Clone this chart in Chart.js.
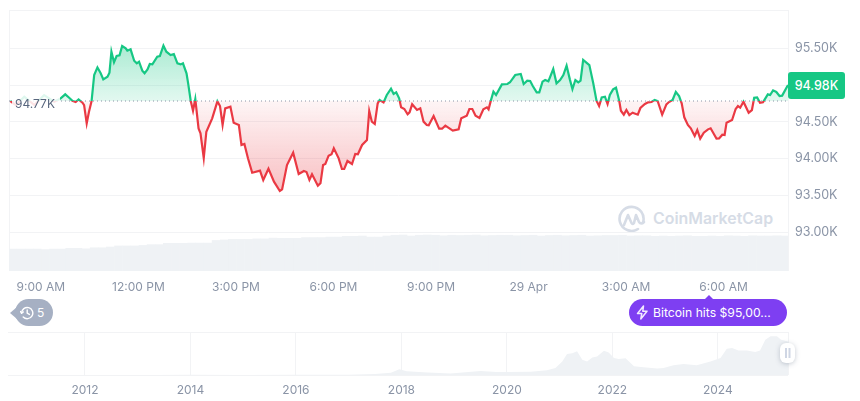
<!DOCTYPE html>
<html>
<head>
<meta charset="utf-8">
<script src="https://cdn.jsdelivr.net/npm/chart.js@4/dist/chart.umd.js"></script>
<style>
  html, body { margin: 0; padding: 0; background: #fff; }
  body { position: relative; width: 860px; height: 401px; overflow: hidden; font-family: Inter, sans-serif; }
  canvas { position: absolute; left: 0; }
  #main { top: 0; }
  #mini { top: 320px; }
  .tag { position: absolute; box-sizing: border-box; white-space: nowrap; }
  #watermark { left: 616px; top: 205px; display: flex; align-items: center; gap: 4px; color: #d6dce6; font-size: 15.9px; font-weight: 600; }
  #open { left: 12px; top: 93px; width: 48px; height: 20px; line-height: 21px; padding-left: 3px; background: rgba(255,255,255,.86); color: #58667e; font-size: 12px; }
  #last { left: 788px; top: 72px; width: 57px; height: 27px; line-height: 27px; text-align: center; background: #16c784; color: #fff; font-size: 12.5px; font-weight: 500; border-radius: 3px; }
  #history { left: 15px; top: 299px; width: 38px; height: 27px; background: #a6b0c3; color: #fff; border-radius: 14px; font-size: 12px; line-height: 27px; padding-left: 22px; }
  #history:before { content: ''; position: absolute; left: -5px; top: 8px; border-style: solid; border-width: 6px 7px 6px 0; border-color: transparent #a6b0c3 transparent transparent; }
  #history svg { position: absolute; left: 5px; top: 7px; }
  #news { left: 629px; top: 299px; width: 158px; height: 27px; background: #7e3ff2; color: #fff; border-radius: 14px; font-size: 12.2px; line-height: 27px; padding-left: 24px; }
  #news:before { content: ''; position: absolute; left: 75px; top: -4px; border-style: solid; border-width: 0 5px 5px 5px; border-color: transparent transparent #7e3ff2 transparent; }
  #news svg { position: absolute; left: 7px; top: 6px; }
  #handle { left: 780px; top: 343px; width: 15px; height: 20px; background: #fff; border-radius: 6px; box-shadow: 0 1px 5px rgba(88,102,126,.35); }
  #handle:before { content: ''; position: absolute; left: 5px; top: 5px; width: 1.5px; height: 10px; background: #cfd6e4; box-shadow: 3.5px 0 0 #cfd6e4; }
</style>
</head>
<body>
<div class="tag" id="watermark">
  <svg width="33" height="27" viewBox="0 0 33 27" fill="none" stroke="#d6dce6" stroke-width="2.6" stroke-linejoin="round" stroke-linecap="round">
    <path d="M27 17.5 A12 12 0 1 0 22 24 "/>
    <path d="M8 20 L12 10 L15.5 18 Q16.5 20 18 18 L20 10 L23 17 Q25 20 28 17"/>
  </svg>
  <span>CoinMarketCap</span>
</div>
<canvas id="main" width="860" height="298"></canvas>
<canvas id="mini" width="860" height="81"></canvas>
<div class="tag" id="open">94.77K</div>
<div class="tag" id="last">94.98K</div>
<div class="tag" id="history">
  <svg width="14" height="14" viewBox="0 0 14 14" fill="none" stroke="#fff" stroke-width="1.4" stroke-linecap="round" stroke-linejoin="round">
    <path d="M1.6 7 A5.6 5.6 0 1 1 3.2 11"/><path d="M0.5 5.5 L1.6 7.3 L3.3 6"/><path d="M7.2 4 V7.2 L9.4 8.4"/>
  </svg>5</div>
<div class="tag" id="news">
  <svg width="13" height="15" viewBox="0 0 13 15" fill="none" stroke="#f1e9ff" stroke-width="1.5" stroke-linejoin="round">
    <path d="M7.5 1 L1.5 8.5 H5.8 L4.8 14 L11 6.2 H6.8 Z"/>
  </svg>Bitcoin hits $95,00...</div>
<div class="tag" id="handle"></div>
<script>
// price, hours counted from 00:00 on 28 Apr
const priceHours = [8.06,8.23,8.49,8.80,9.10,9.41,9.61,9.75,9.87,9.97,10.07,10.16,10.28,10.33,10.41,10.48,10.56,10.64,10.74,10.84,10.92,11.05,11.11,11.17,11.25,11.33,11.42,11.50,11.61,11.66,11.76,11.87,11.95,12.02,12.12,12.19,12.28,12.35,12.43,12.58,12.66,12.77,12.86,12.99,13.09,13.20,13.30,13.37,13.48,13.53,13.61,13.68,13.75,13.85,13.91,14.01,14.09,14.27,14.43,14.51,14.59,14.67,14.83,14.93,15.09,15.17,15.26,15.37,15.50,15.74,15.84,16.00,16.17,16.35,16.42,16.57,16.76,16.93,17.09,17.17,17.26,17.34,17.52,17.60,17.68,17.75,17.85,17.94,18.01,18.16,18.26,18.33,18.43,18.57,18.67,18.75,18.88,19.03,19.10,19.18,19.27,19.36,19.42,19.54,19.64,19.77,19.85,19.93,20.02,20.08,20.18,20.28,20.34,20.42,20.57,20.67,20.77,20.87,20.93,21.08,21.25,21.34,21.44,21.67,21.85,21.93,22.10,22.18,22.27,22.37,22.49,22.61,22.72,22.77,22.84,22.92,23.00,23.18,23.35,23.43,23.59,23.76,23.85,23.96,24.05,24.13,24.25,24.33,24.43,24.51,24.61,24.76,24.86,24.97,25.07,25.17,25.27,25.35,25.44,25.53,25.60,25.68,25.87,25.99,26.09,26.17,26.25,26.35,26.43,26.50,26.60,26.69,26.79,26.84,26.93,27.01,27.10,27.20,27.36,27.44,27.58,27.68,27.78,27.88,27.97,28.11,28.24,28.32,28.43,28.53,28.63,28.71,28.79,28.90,28.99,29.11,29.19,29.28,29.39,29.52,29.60,29.78,29.86,29.96,30.03,30.09,30.26,30.37,30.44,30.51,30.61,30.77,30.87,30.94,31.03,31.12,31.21,31.36,31.43,31.52,31.62,31.72,31.80,31.98];
const prices = [94785,94730,94844,94730,94866,94776,94821,94876,94830,94789,94771,94807,94762,94730,94481,94639,94785,95139,95243,95162,95080,95116,95171,95457,95312,95398,95407,95534,95502,95470,95489,95334,95298,95321,95198,95162,95216,95289,95284,95389,95398,95539,95457,95411,95425,95298,95284,95298,95162,95025,94785,94653,94812,94412,94344,94008,94367,94549,94780,94717,94458,94685,94708,94490,94458,94185,94199,94004,93808,93836,93709,93863,93686,93559,93581,93913,94081,93791,93832,93818,93709,93786,93632,93664,93913,93927,94040,94059,94140,94004,93859,93859,93968,93927,94063,94059,94186,94254,94649,94504,94472,94753,94799,94767,94867,94953,94881,94903,94822,94699,94676,94604,94631,94740,94663,94685,94504,94458,94454,94581,94408,94408,94449,94381,94399,94549,94585,94676,94676,94585,94554,94672,94699,94672,94790,94912,94867,95012,95017,95040,95139,95153,95017,95062,95058,94990,94903,94903,95049,95071,95053,95221,95026,95071,95139,95266,95080,94948,95071,95039,95062,95344,95275,95026,94790,94717,94835,94844,94744,94867,94944,94967,94785,94653,94599,94662,94594,94626,94599,94690,94744,94767,94771,94799,94785,94599,94740,94771,94799,94908,94853,94753,94563,94458,94413,94308,94390,94272,94354,94399,94413,94272,94276,94326,94322,94490,94526,94676,94717,94694,94776,94626,94662,94830,94835,94762,94767,94876,94867,94930,94908,94853,94858,95003];
const openPrice = 94785;

// volume, one bar per 15 minutes
const volumeHours = [8.14,8.39,8.64,8.89,9.14,9.39,9.64,9.89,10.14,10.39,10.64,10.89,11.14,11.39,11.64,11.89,12.14,12.39,12.64,12.89,13.14,13.39,13.64,13.89,14.14,14.39,14.64,14.89,15.14,15.39,15.64,15.89,16.14,16.39,16.64,16.89,17.14,17.39,17.64,17.89,18.14,18.39,18.64,18.89,19.14,19.39,19.64,19.89,20.14,20.39,20.64,20.89,21.14,21.39,21.64,21.89,22.14,22.39,22.64,22.89,23.14,23.39,23.64,23.89,24.14,24.39,24.64,24.89,25.14,25.39,25.64,25.89,26.14,26.39,26.64,26.89,27.14,27.39,27.64,27.89,28.14,28.39,28.64,28.89,29.14,29.39,29.64,29.89,30.14,30.39,30.64,30.89,31.14,31.39,31.64,31.89];
const volumes = [8.4,8.4,8.4,8.4,8.2,8.4,8.4,8.7,8.7,8.5,8.9,8.9,9.2,9.6,9.6,9.6,9.8,10.1,10.1,10.6,10.6,10.6,10.7,10.7,10.7,11.7,11.9,12.1,12.1,12.1,12.3,12.3,12.6,12.5,12.5,12.5,12.8,12.8,12.8,13.0,13.0,13.3,13.3,13.4,13.0,13.0,13.4,13.7,13.8,13.4,13.7,13.8,13.7,13.5,13.7,13.6,13.7,13.8,13.5,13.6,13.7,13.7,13.5,13.6,13.7,13.4,13.6,13.7,13.5,13.6,13.7,13.4,13.5,13.6,13.6,13.7,13.4,13.5,13.5,13.3,13.4,13.3,13.4,13.5,13.3,13.3,13.4,13.3,13.5,13.4,13.3,13.5,13.4,13.4,13.5,13.4];

const xTicks = [9,12,15,18,21,24,27,30];
const xTickLabels = ['9:00 AM','12:00 PM','3:00 PM','6:00 PM','9:00 PM','29 Apr','3:00 AM','6:00 AM'];
const yTicks = [93000,93500,94000,94500,95000,95500];
const yTickLabels = ['93.00K','93.50K','94.00K','94.50K','','95.50K'];

// all-time navigator
const miniYears = [2010.54,2012,2013.3,2014,2015,2016,2017,2017.5,2017.8,2017.96,2018.1,2018.5,2018.93,2019.5,2019.8,2020,2020.45,2020.76,2020.92,2021.05,2021.14,2021.24,2021.33,2021.43,2021.52,2021.62,2021.71,2021.84,2021.93,2022.03,2022.12,2022.25,2022.41,2022.59,2022.85,2022.97,2023.16,2023.35,2023.6,2023.86,2024.05,2024.17,2024.27,2024.39,2024.55,2024.71,2024.8,2024.9,2025,2025.12,2025.2,2025.33];
const miniPrices = [0,10,200,800,300,400,1000,2500,6000,16000,10000,7000,4000,11000,8000,8000,9000,12800,19000,37000,57500,60000,65000,42000,37000,48000,51000,66600,62000,46600,44000,46000,24000,21000,18000,19000,26500,30000,26500,37000,46600,72000,74000,67000,67500,63000,67000,97000,106000,106000,97000,92000];
const miniTicks = [2012,2014,2016,2018,2020,2022,2024];

const fontFamily = 'Inter, sans-serif';
const muted = '#8a94a6';
const grid = '#f2f3f5';
const X_MIN = 8.02, X_MAX = 31.98, Y_MIN = 92469, Y_MAX = 96025;

function createPriceChart(canvas) {
  const ctx = canvas.getContext('2d');
  const baseY = 101;

  const lineColor = ctx.createLinearGradient(0, 0, 0, 298);
  lineColor.addColorStop(0, '#16c784');
  lineColor.addColorStop(baseY / 298, '#16c784');
  lineColor.addColorStop(baseY / 298, '#ea3943');
  lineColor.addColorStop(1, '#ea3943');

  const aboveFill = ctx.createLinearGradient(0, 45, 0, baseY);
  aboveFill.addColorStop(0, 'rgba(22,199,132,.36)');
  aboveFill.addColorStop(1, 'rgba(22,199,132,.12)');

  const belowFill = ctx.createLinearGradient(0, baseY, 0, 192);
  belowFill.addColorStop(0, 'rgba(234,57,67,.05)');
  belowFill.addColorStop(1, 'rgba(234,57,67,.32)');

  return new Chart(ctx, {
    data: {
      datasets: [
        {
          type: 'line',
          data: priceHours.map((x, i) => ({ x, y: prices[i] })),
          borderColor: lineColor,
          borderWidth: 2.2,
          pointRadius: 0,
          tension: 0,
          fill: { target: { value: openPrice }, above: aboveFill, below: belowFill },
          order: 1,
        },
        {
          type: 'line',
          data: [{ x: X_MIN, y: openPrice }, { x: X_MAX, y: openPrice }],
          borderColor: '#8a94a6',
          borderWidth: 1,
          borderDash: [1, 3],
          pointRadius: 0,
          fill: false,
          order: 0,
        },
        {
          type: 'bar',
          data: volumeHours.map((x, i) => ({ x, y: volumes[i] })),
          yAxisID: 'volume',
          backgroundColor: '#eff2f5',
          barThickness: 8,
          order: 2,
        },
      ],
    },
    options: {
      responsive: false,
      animation: false,
      layout: { padding: { left: 8, top: 10 } },
      plugins: { legend: { display: false }, tooltip: { enabled: false } },
      scales: {
        x: {
          type: 'linear',
          offset: false,
          min: X_MIN,
          max: X_MAX,
          afterBuildTicks: (s) => { s.ticks = [X_MIN, ...xTicks, X_MAX].map((value) => ({ value })); },
          afterFit: (s) => { s.height = 27; },
          ticks: {
            autoSkip: false,
            maxRotation: 0,
            padding: 9,
            color: muted,
            font: { family: fontFamily, size: 12 },
            callback: (v) => { const i = xTicks.indexOf(v); return i < 0 ? '' : xTickLabels[i]; },
          },
          grid: {
            offset: false,
            drawTicks: false,
            color: (c) => (xTicks.includes(c.tick && c.tick.value) ? 'transparent' : grid),
          },
          border: { display: false },
        },
        y: {
          position: 'right',
          min: Y_MIN,
          max: Y_MAX,
          afterBuildTicks: (s) => { s.ticks = [...yTicks, Y_MAX].map((value) => ({ value })); },
          afterFit: (s) => { s.width = 72; s.paddingTop = 0; s.paddingBottom = 0; },
          ticks: {
            autoSkip: false,
            padding: 7,
            color: muted,
            font: { family: fontFamily, size: 12.5 },
            callback: (v) => { const i = yTicks.indexOf(v); return i < 0 ? '' : yTickLabels[i]; },
          },
          grid: { drawTicks: false, color: grid },
          border: { display: false },
        },
        volume: { display: false, min: 0, max: 100 },
      },
    },
  });
}

function createMiniChart(canvas) {
  const X0 = 2010.54, X1 = 2025.33, TOP = 118000;
  return new Chart(canvas.getContext('2d'), {
    type: 'line',
    data: {
      datasets: [{
        data: miniYears.map((x, i) => ({ x, y: miniPrices[i] })),
        borderWidth: 0,
        pointRadius: 0,
        tension: 0,
        fill: 'origin',
        backgroundColor: '#eff2f5',
      }],
    },
    options: {
      responsive: false,
      animation: false,
      layout: { padding: { left: 8, top: 12 } },
      plugins: { legend: { display: false }, tooltip: { enabled: false } },
      scales: {
        x: {
          type: 'linear',
          min: X0,
          max: X1,
          afterBuildTicks: (s) => { s.ticks = [...miniTicks, X1].map((value) => ({ value })); },
          afterFit: (s) => { s.height = 26; },
          ticks: {
            autoSkip: false,
            maxRotation: 0,
            padding: 8,
            color: muted,
            font: { family: fontFamily, size: 12 },
            callback: (v) => (miniTicks.includes(v) ? String(v) : ''),
          },
          grid: { drawTicks: false, color: grid },
          border: { display: false },
        },
        y: {
          position: 'right',
          min: 0,
          max: TOP,
          afterBuildTicks: (s) => { s.ticks = [0, TOP].map((value) => ({ value })); },
          afterFit: (s) => { s.width = 72; s.paddingTop = 0; s.paddingBottom = 0; },
          ticks: { callback: () => '' },
          grid: { drawTicks: false, color: grid },
          border: { display: false },
        },
      },
    },
  });
}

createPriceChart(document.getElementById('main'));
createMiniChart(document.getElementById('mini'));
</script>
</body>
</html>
